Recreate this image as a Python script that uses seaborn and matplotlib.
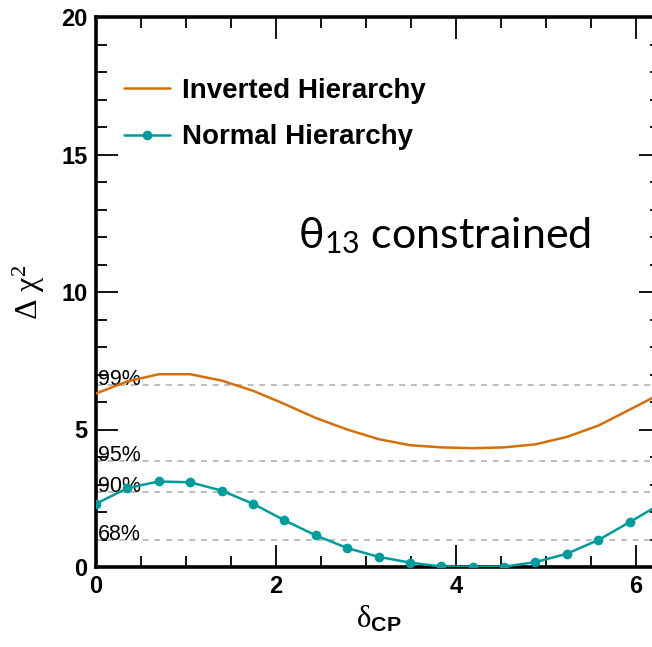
import numpy as np
import pandas as pd
import matplotlib
matplotlib.use("Agg")
import matplotlib.pyplot as plt
import seaborn as sns

# ---- data ----
delta_cp = [k * np.pi / 9 for k in range(19)]
nh_chi2 = [2.30, 2.87, 3.11, 3.08, 2.78, 2.30, 1.70, 1.15, 0.69, 0.37,
           0.16, 0.02, 0.00, 0.01, 0.18, 0.48, 0.98, 1.63, 2.30]
ih_chi2 = [6.31, 6.75, 7.01, 7.01, 6.78, 6.41, 5.93, 5.42, 5.00, 4.65,
           4.43, 4.35, 4.32, 4.35, 4.46, 4.73, 5.14, 5.72, 6.31]
cl_values = [6.63, 3.84, 2.71, 1.00]
cl_labels = ["99%", "95%", "90%", "68%"]
series_names = ["Inverted Hierarchy", "Normal Hierarchy"]

df = pd.DataFrame({
    "delta": delta_cp * 2,
    "chi2": ih_chi2 + nh_chi2,
    "hier": [series_names[0]] * 19 + [series_names[1]] * 19,
})

sns.set_style("ticks")
plt.rcParams["font.family"] = ["Liberation Sans", "DejaVu Sans"]
plt.rcParams["mathtext.fontset"] = "custom"
plt.rcParams["mathtext.rm"] = "Liberation Serif"
plt.rcParams["mathtext.it"] = "Liberation Serif:italic"
plt.rcParams["mathtext.bf"] = "Liberation Sans:bold"
plt.rcParams["mathtext.sf"] = "Lato"
for k in ["text.color", "axes.labelcolor", "xtick.color", "ytick.color",
          "axes.edgecolor"]:
    plt.rcParams[k] = "black"

ORANGE = "#d4700a"
TEAL = "#009b9a"

fig = plt.figure(figsize=(6.52, 6.47), dpi=100)
ax = fig.add_axes([96 / 652, 80 / 647, 565 / 652, 550 / 647])

# confidence level lines
for v, lab in zip(cl_values, cl_labels):
    ax.axhline(v, color="#bdbdbd", lw=1.4, ls=(0, (3, 3)), zorder=1)
    ax.text(0.02, v, lab, fontsize=15.5, va="baseline", ha="left", zorder=2)

sns.lineplot(data=df[df.hier == series_names[0]], x="delta", y="chi2",
             color=ORANGE, lw=1.8, ax=ax, label=series_names[0], zorder=3)
sns.lineplot(data=df[df.hier == series_names[1]], x="delta", y="chi2",
             color=TEAL, lw=1.8, marker="o", markersize=7, markeredgewidth=0,
             ax=ax, label=series_names[1], zorder=4)

ax.set_xlim(0, 2 * np.pi)
ax.set_ylim(0, 20)
ax.set_xticks([0, 2, 4, 6])
ax.set_yticks([0, 5, 10, 15, 20])
ax.set_xticks(np.arange(0, 6.3, 0.5), minor=True)
ax.set_yticks(np.arange(0, 20.1, 1), minor=True)
ax.tick_params(which="both", direction="in", top=True, right=True, width=1.3)
ax.tick_params(which="major", length=16, labelsize=17, pad=6)
ax.tick_params(which="minor", length=8)
for lab in ax.get_xticklabels() + ax.get_yticklabels():
    lab.set_fontweight("bold")
for s in ax.spines.values():
    s.set_linewidth(2.6)

ax.set_xlabel("δ$_{\\mathbf{CP}}$", fontsize=22, family="Liberation Serif",
              labelpad=4)
ax.set_ylabel("Δ χ$^{2}$", fontsize=23, family="Liberation Serif", labelpad=10)

ax.text(2.25, 11.6, "θ$_{\\mathsf{13}}$ constrained", fontsize=31,
        family="Lato", ha="left", va="baseline")

leg = ax.legend(loc="upper left", bbox_to_anchor=(0.03, 0.91), frameon=False,
                prop={"weight": "bold", "size": 20, "family": "Liberation Sans"},
                handlelength=1.65, handletextpad=0.45, labelspacing=0.75,
                borderaxespad=0)

fig.savefig("out.png", dpi=100)
